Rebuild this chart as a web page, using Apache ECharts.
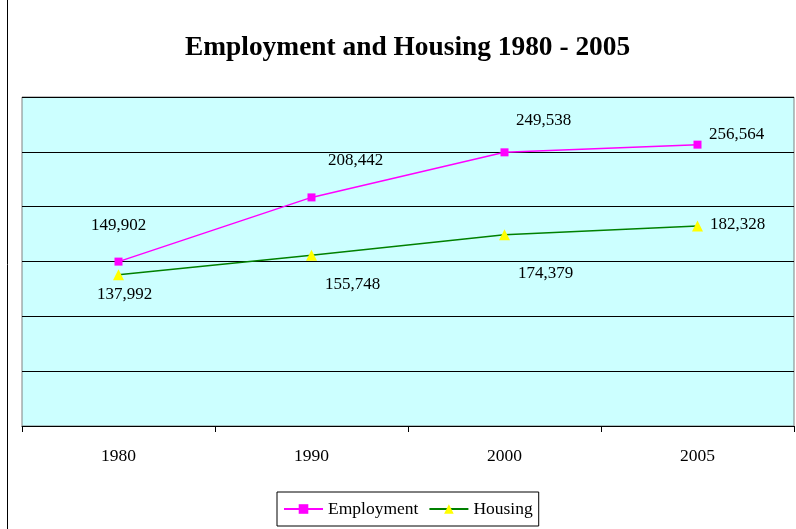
<!DOCTYPE html>
<html>
<head>
<meta charset="utf-8">
<script src="https://cdn.jsdelivr.net/npm/echarts@6/dist/echarts.min.js"></script>
<style>
html, body { margin: 0; padding: 0; background: #fff; }
#chart { width: 796px; height: 529px; }
</style>
</head>
<body>
<div id="chart"></div>
<script>
var years = ["1980", "1990", "2000", "2005"];
var employment = [149902, 208442, 249538, 256564];
var housing = [137992, 155748, 174379, 182328];

// label offsets per point (to sit labels like the original)
var empOffsets = [[0, -36], [44, -37], [39, -32], [39, -10]];
var housOffsets = [[6, 20], [41, 29], [41, 39], [40, -2]];

function fmt(v) {
    return v.toLocaleString("en-US");
}

function withLabels(values, offsets) {
    return values.map(function (v, i) {
        return {
            value: v,
            label: { offset: offsets[i] }
        };
    });
}

var myChart = echarts.init(document.getElementById("chart"));
myChart.setOption({
    animation: false,
    textStyle: { fontFamily: "Liberation Serif" },
    title: {
        text: "Employment and Housing 1980 - 2005",
        left: 180,
        top: 29,
        textStyle: {
            fontFamily: "Liberation Serif",
            fontSize: 27.4,
            fontWeight: "bold",
            color: "#000"
        }
    },
    graphic: [{
        type: "rect",
        shape: { x: 7.5, y: -1, width: 800, height: 540 },
        style: { fill: "none", stroke: "#000", lineWidth: 1 },
        silent: true,
        z: -10
    }],
    grid: {
        left: 22,
        right: 2,
        top: 97,
        bottom: 103,
        show: true,
        backgroundColor: "#CCFFFF",
        borderColor: "#808080",
        borderWidth: 1
    },
    legend: {
        bottom: 3,
        left: 277,
        itemWidth: 39,
        itemHeight: 12,
        itemGap: 10,
        padding: [8, 6, 8, 6],
        borderColor: "#000",
        borderWidth: 1,
        textStyle: { fontFamily: "Liberation Serif", fontSize: 17.5, color: "#000" },
        data: ["Employment", "Housing"]
    },
    xAxis: {
        type: "category",
        data: years,
        boundaryGap: true,
        axisLine: { lineStyle: { color: "#000" } },
        axisTick: { show: true, length: 6, lineStyle: { color: "#000" } },
        axisLabel: {
            margin: 21,
            fontFamily: "Liberation Serif",
            fontSize: 17.5,
            color: "#000"
        }
    },
    yAxis: {
        type: "value",
        min: 0,
        max: 300000,
        interval: 50000,
        axisLine: { show: false },
        axisTick: { show: false },
        axisLabel: { show: false },
        splitLine: { lineStyle: { color: "#000", width: 1 } }
    },
    series: [{
        name: "Employment",
        type: "line",
        data: withLabels(employment, empOffsets),
        symbol: "rect",
        symbolSize: 8,
        itemStyle: { color: "#FF00FF" },
        lineStyle: { color: "#FF00FF", width: 1.5 },
        label: {
            show: true,
            position: "inside",
            fontFamily: "Liberation Serif",
            fontSize: 17,
            color: "#000",
            formatter: function (p) { return fmt(p.value); }
        }
    }, {
        name: "Housing",
        type: "line",
        data: withLabels(housing, housOffsets),
        symbol: "triangle",
        symbolSize: 11,
        itemStyle: { color: "#FFFF00" },
        lineStyle: { color: "#008000", width: 1.5 },
        label: {
            show: true,
            position: "inside",
            fontFamily: "Liberation Serif",
            fontSize: 17,
            color: "#000",
            formatter: function (p) { return fmt(p.value); }
        }
    }]
});
</script>
</body>
</html>
